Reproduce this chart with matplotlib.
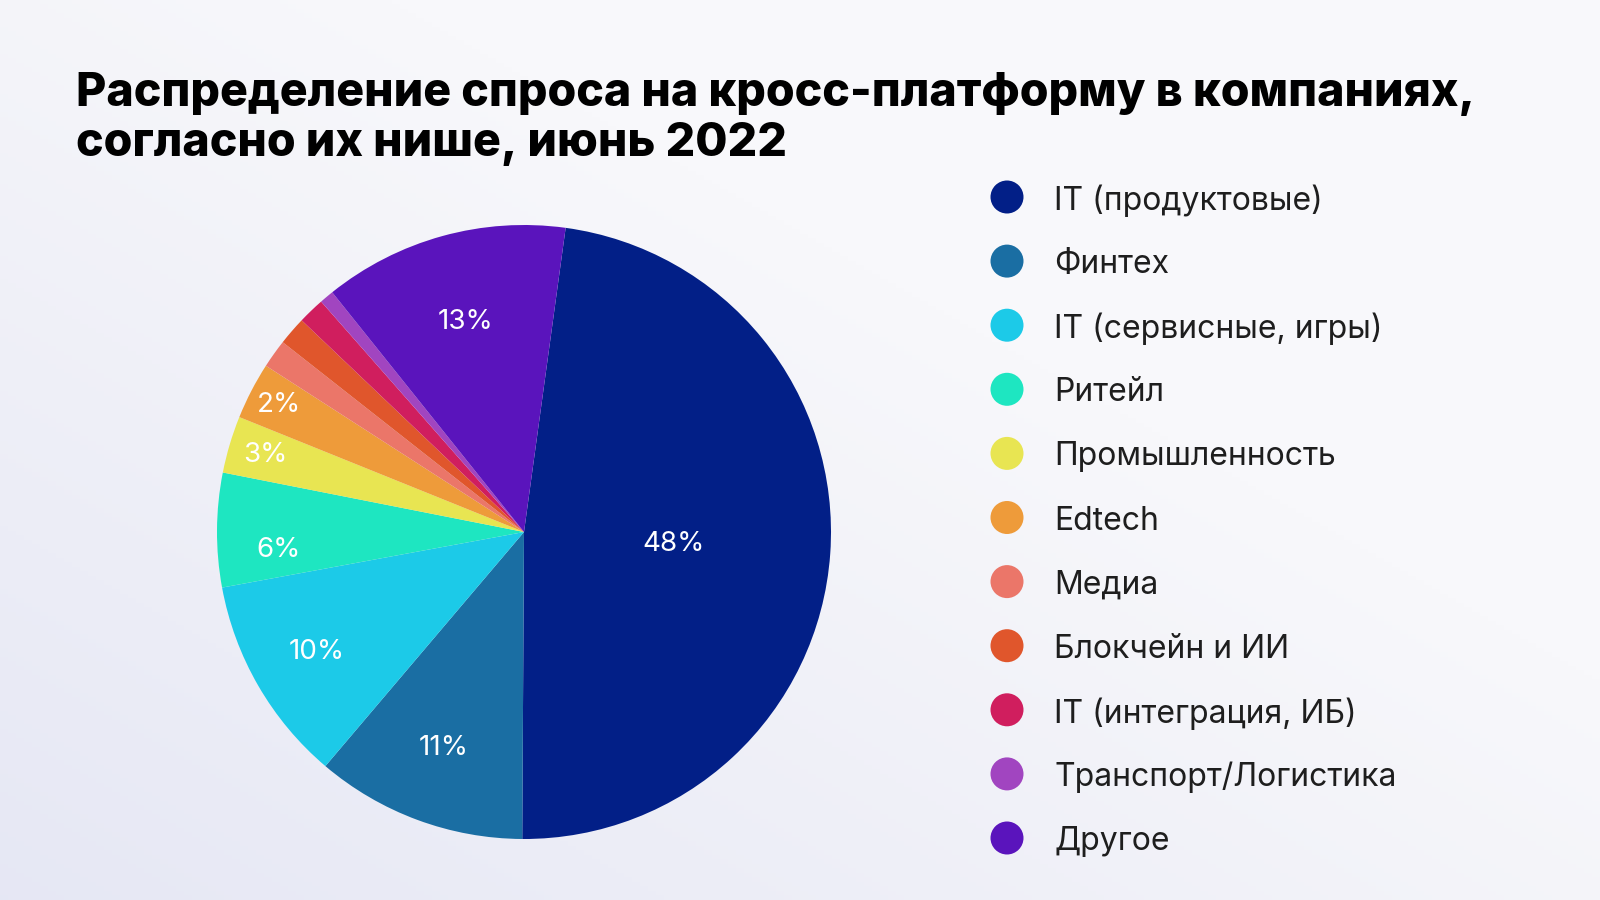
import numpy as np
import matplotlib
matplotlib.use("Agg")
import matplotlib.pyplot as plt
from matplotlib.colors import LinearSegmentedColormap

categories = ["IT (продуктовые)", "Финтех", "IT (сервисные, игры)", "Ритейл",
              "Промышленность", "Edtech", "Медиа", "Блокчейн и ИИ",
              "IT (интеграция, ИБ)", "Транспорт/Логистика", "Другое"]
values = [47.9, 11.1, 10.9, 6.0, 3.0, 3.0, 1.5, 1.5, 1.4, 0.75, 12.9]
pct_labels = ["48%", "11%", "10%", "6%", "3%", "2%", "", "", "", "", "13%"]
colors = ["#021F87", "#1A6EA3", "#1CCAE8", "#1EE6C1", "#E8E552", "#EE9B3A",
          "#EB7669", "#E0562C", "#D01E5E", "#A145C0", "#5A14BC"]
label_dist = [0.49, 0.75, 0.78, 0.80, 0.88, 0.90, 0, 0, 0, 0, 0.71]
label_rot = [-0.5, 0, 0, 4.5, 0, 0, 0, 0, 0, 0, 0]

W, H = 1600, 900
fig = plt.figure(figsize=(16, 9), dpi=100)

# background gradient
bg = fig.add_axes([0, 0, 1, 1])
bg.set_axis_off()
yy, xx = np.mgrid[0:1:200j, 0:1:200j]
t = np.clip((1 - xx) * 0.6 + yy * 0.6 - 0.45, 0, 1)
cmap = LinearSegmentedColormap.from_list("bg", ["#F8F8FB", "#E0E2F2"])
bg.imshow(t, cmap=cmap, extent=[0, 1, 0, 1], aspect="auto", origin="upper",
          vmin=0, vmax=1)
bg.set_xlim(0, 1)
bg.set_ylim(0, 1)

# title
title_font = dict(family=["Inter", "DejaVu Sans"], fontsize=33.5, fontweight=800,
                  color="#000000")
fig.text(76 / W, 1 - 106 / H, "Распределение спроса на кросс-платформу в компаниях,",
         ha="left", va="baseline", **title_font)
fig.text(76 / W, 1 - 156 / H, "согласно их нише, июнь 2022",
         ha="left", va="baseline", **title_font)

# pie
cx, cy, r = 524, 532, 307
ax = fig.add_axes([(cx - r) / W, (H - cy - r) / H, 2 * r / W, 2 * r / H])
wedges, _ = ax.pie(values, colors=colors, startangle=90 - 7.8, counterclock=False,
                   radius=1, wedgeprops=dict(linewidth=0))
ax.set_xlim(-1, 1)
ax.set_ylim(-1, 1)
ax.set_aspect("equal")
ax.set_axis_off()
for w, lab, d, rot in zip(wedges, pct_labels, label_dist, label_rot):
    if not lab:
        continue
    mid = np.deg2rad((w.theta1 + w.theta2) / 2 + rot)
    ax.text(d * np.cos(mid), d * np.sin(mid), lab, ha="center", va="center",
            color="white", fontsize=20, family=["Inter", "DejaVu Sans"])

# legend
y0, dy = 197, 64.1
for i, (c, name) in enumerate(zip(colors, categories)):
    y = y0 + i * dy
    fig.patches.append(matplotlib.patches.Ellipse((1007 / W, 1 - y / H), 33 / W, 33 / H,
                                                  transform=fig.transFigure,
                                                  facecolor=c, edgecolor="none"))
    fig.text(1054 / W, 1 - y / H, name, ha="left", va="center_baseline",
             fontsize=23, color="#1E1E1E", family=["Inter", "DejaVu Sans"])

fig.savefig("out.png", dpi=100)
